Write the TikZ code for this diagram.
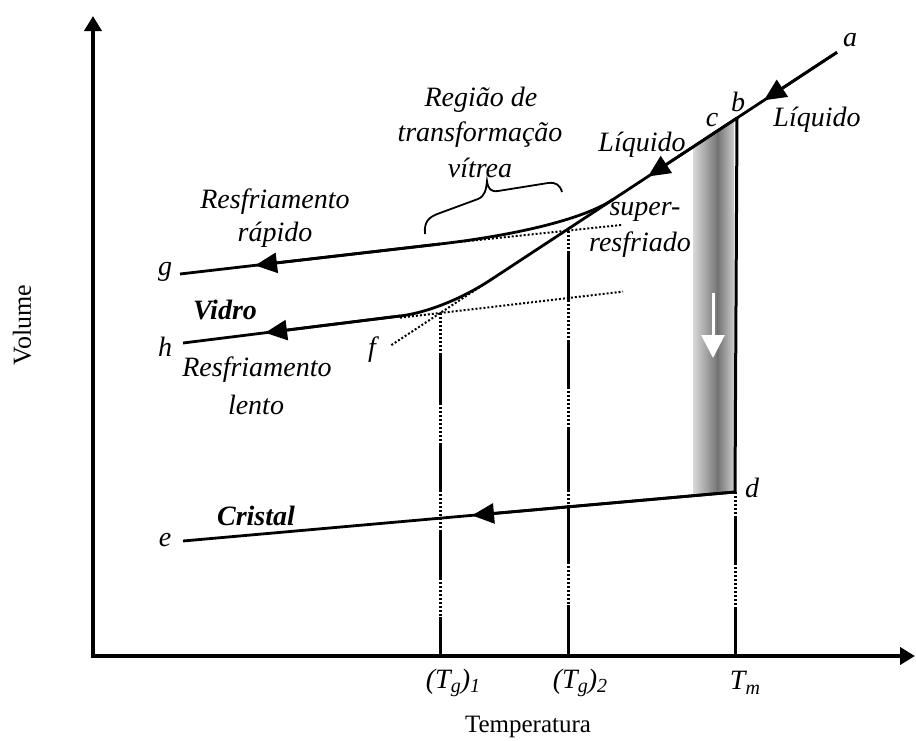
\documentclass[tikz,border=0pt]{standalone}
\usepackage{fontspec}
\setmainfont{Liberation Serif}
\usetikzlibrary{arrows.meta}
\newcommand\labfont{\fontsize{28}{30}\selectfont\itshape}
\newcommand\subx[1]{\raisebox{-0.35ex}{\fontsize{20}{20}\selectfont #1}}
\begin{document}
\begin{tikzpicture}[x=1pt,y=-1pt,
  curve/.style={line width=2.8pt},
  axisline/.style={line width=4pt},
  vline/.style={line width=3pt},
  vdot/.style={line width=3pt, dash pattern=on 2.4pt off 1.6pt},
  xdot/.style={line width=2pt, dash pattern=on 2pt off 2pt},
  tipa/.style={-{Triangle[length=22pt,width=20pt]}},
  axtip/.tip={Triangle[length=15pt,width=17pt]},
  lab/.style={font=\labfont, inner sep=0pt},
  blab/.style={font=\labfont\bfseries, inner sep=0pt},
  plain/.style={font=\fontsize{25}{27}\selectfont, inner sep=0pt}]
\useasboundingbox (0,0) rectangle (916,740);
% gray band (two shaded pieces)
\shade[left color=black!15, right color=black!55] (693,146.9) -- (718,130.5) -- (718,493.5) -- (693,495.7) -- cycle;
\shade[left color=black!55, right color=black!20] (717.5,130.8) -- (734,120) -- (734,492) -- (717.5,493.5) -- cycle;
\draw[white, line width=3pt, -{Triangle[length=23pt,width=23pt]}] (713,293) -- (713,358);
% axes
\coordinate (O) at (93,656);
\coordinate (ytop) at (93,16);
\coordinate (xend) at (915,656);
\draw[axisline, axtip-axtip] (ytop) -- (O) -- (xend);
% key points
\coordinate (A) at (837,52.3);
\coordinate (Atip) at (764,100.3);
\coordinate (B) at (737,118);
\coordinate (Ltip) at (648,176.5);
\coordinate (Br) at (613,199.5);
\coordinate (K) at (490,280.3);
\coordinate (Fend) at (390,346);
\coordinate (G) at (180,274);
\coordinate (Gtip) at (255,265.4);
\coordinate (G2) at (440,244);
\coordinate (H) at (183,343);
\coordinate (Htip) at (265,332.8);
\coordinate (H2) at (400,316);
\coordinate (D) at (735,492);
\coordinate (E) at (183,541);
\coordinate (Etip) at (472,515.4);
% dotted extrapolations
\draw[xdot] (K) -- (Fend);
\draw[xdot] (400,317.7) -- (623,291.6);
\draw[xdot] (460,241.9) -- (622,224.9);
% vertical lines
\draw[vline] (B) -- (D);
\foreach \a/\b/\s in {313/353/vdot, 353/403/vline, 403/443/vdot, 443/490/vline, 490/530/vdot, 530/578/vline, 578/617/vdot, 617/656/vline}
  \draw[\s] (440,\a) -- (440,\b);
\foreach \a/\b/\s in {230.6/252/vdot, 252/300/vline, 300/340/vdot, 340/387/vline, 387/427/vdot, 427/490/vline, 490/505/vdot, 505/562/vline, 562/605/vdot, 605/656/vline}
  \draw[\s] (568,\a) -- (568,\b);
\foreach \a/\b/\s in {492/518/vdot, 518/563/vline, 563/607/vdot, 607/656/vline}
  \draw[\s] (735,\a) -- (735,\b);
% curves
\draw[curve] (A) -- (K) .. controls (465,296.7) and (430,312.3) .. (H2) -- (H);
\draw[curve] (Br) .. controls (578,222.5) and (500,237) .. (G2) -- (G);
\draw[curve] (D) -- (E);
% arrowheads
\draw[curve,tipa] (A) -- (Atip);
\draw[curve,tipa] (B) -- (Ltip);
\draw[curve,tipa] (G2) -- (Gtip);
\draw[curve,tipa] (H2) -- (Htip);
\draw[curve,tipa] (D) -- (Etip);
% brace
\draw[line width=1.8pt] (425,234) .. controls (424,222) and (428,217) .. (440,213) -- (478,199) .. controls (485,196) and (486,190) .. (487,181) .. controls (488,189) and (491,192) .. (498,191) -- (548,183) .. controls (556,182) and (560,185) .. (562,192);
% labels
\node[lab] (la) at (850,40) {a};
\node[lab] (lb) at (738,102) {b};
\node[lab] (lc) at (712,120) {c};
\node[lab] (liq1) at (817,120) {Líquido};
\node[lab] (liq2) at (642,145) {Líquido};
\node[lab] (r1) at (481,100) {Região de};
\node[lab] (r2) at (480,135) {transformação};
\node[lab] (r3) at (480,168) {vítrea};
\node[lab] (rr1) at (275,202) {Resfriamento};
\node[lab] (rr2) at (275,235) {rápido};
\node[lab] (s1) at (645,212) {super-};
\node[lab] (s2) at (640,245) {resfriado};
\node[lab] (lg) at (165,272) {g};
\node[blab] (vid) at (225,310) {Vidro};
\node[lab] (lh) at (165,347) {h};
\node[lab] (lf) at (372,350) {f};
\node[lab] (rl1) at (257,370) {Resfriamento};
\node[lab] (rl2) at (256,405) {lento};
\node[blab] (cri) at (256,516) {Cristal};
\node[lab] (le) at (165,540) {e};
\node[lab] (ld) at (752,488) {d};
\node[lab] (t1) at (453,683) {(T\subx{g})\subx{1}};
\node[lab] (t2) at (580,683) {(T\subx{g})\subx{2}};
\node[lab] (tm) at (745,683) {T\subx{m}};
\node[plain] (xl) at (528,727) {Temperatura};
\node[font=\fontsize{26}{28}\selectfont, inner sep=0pt, rotate=90] (yl) at (22,325) {Volume};
\end{tikzpicture}
\end{document}
